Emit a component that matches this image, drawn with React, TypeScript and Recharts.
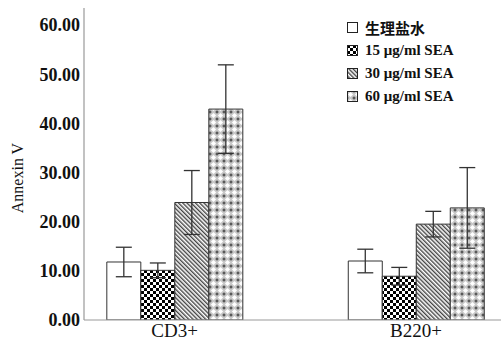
import { BarChart, Bar, XAxis, YAxis, ErrorBar, Legend } from 'recharts'

const categories = ['CD3+', 'B220+']

const salineMean = [11.8, 12.0]
const salineErr = [3.0, 2.4]
const sea15Mean = [10.1, 8.9]
const sea15Err = [1.5, 1.8]
const sea30Mean = [23.9, 19.5]
const sea30Err = [6.5, 2.6]
const sea60Mean = [42.9, 22.8]
const sea60Err = [9.0, 8.2]

const yTicks = [0, 10, 20, 30, 40, 50, 60]

const series = [
  { key: 'saline', name: '生理盐水', fill: '#ffffff', mean: salineMean, err: salineErr },
  { key: 'sea15', name: '15 μg/ml SEA', fill: 'url(#pat15)', mean: sea15Mean, err: sea15Err },
  { key: 'sea30', name: '30 μg/ml SEA', fill: 'url(#pat30)', mean: sea30Mean, err: sea30Err },
  { key: 'sea60', name: '60 μg/ml SEA', fill: 'url(#pat60)', mean: sea60Mean, err: sea60Err },
]

// numeric x so the two clusters can sit further apart than a band scale allows
const data = categories.map((c, i) => {
  const row: Record<string, number | string> = { name: c, pos: i + 1 }
  series.forEach((s) => {
    row[s.key] = s.mean[i]
    row[s.key + 'Err'] = s.err[i]
  })
  return row
})

const serif = '"Liberation Serif", "Times New Roman", "Noto Sans CJK SC", serif'

function Plus({ x, y }: { x: number; y: number }) {
  return (
    <g fill="#333">
      <rect x={x - 1.5} y={y - 0.5} width={3} height={1} />
      <rect x={x - 0.5} y={y - 1.5} width={1} height={3} />
    </g>
  )
}

function LegendBox(props: any) {
  return (
    <div style={{ fontFamily: serif, fontSize: 15, fontWeight: 'bold', color: '#111' }}>
      {series.map((s) => (
        <div key={s.key} style={{ display: 'flex', alignItems: 'center', height: 23 }}>
          <svg width={11} height={11} style={{ marginRight: 7 }}>
            <rect x={0.5} y={0.5} width={10} height={10} fill={s.fill} stroke="#222" />
          </svg>
          <span>{s.name}</span>
        </div>
      ))}
    </div>
  )
}

export default function App() {
  return (
    <div style={{ position: 'absolute', left: 0, top: 0, background: '#fff' }}>
      <BarChart width={501} height={344} data={data} margin={{ top: 8, right: 0, bottom: 0, left: 0 }} barGap={0}>
        <defs>
          <pattern id="pat15" width={6} height={6} patternUnits="userSpaceOnUse">
            <rect width={6} height={6} fill="#fff" />
            <rect x={0} y={0} width={3} height={3} fill="#000" />
            <rect x={3} y={3} width={3} height={3} fill="#000" />
          </pattern>
          <pattern id="pat30" width={3} height={10} patternUnits="userSpaceOnUse" patternTransform="rotate(-45)">
            <rect width={3} height={10} fill="#fff" />
            <rect x={0} y={0} width={1.4} height={10} fill="#444" />
          </pattern>
          <pattern id="pat60" width={7} height={7} patternUnits="userSpaceOnUse">
            <rect width={7} height={7} fill="#c8c8c8" />
            <polygon points="3.5,0.9 6.1,3.5 3.5,6.1 0.9,3.5" fill="#fff" />
            <Plus x={0} y={0} />
            <Plus x={7} y={0} />
            <Plus x={0} y={7} />
            <Plus x={7} y={7} />
          </pattern>
        </defs>
        <XAxis
          type="number"
          dataKey="pos"
          domain={[0.625, 2.352]}
          allowDataOverflow
          ticks={[1, 2]}
          tickFormatter={(v: number) => categories[v - 1]}
          height={24}
          tickLine={false}
          tickSize={0}
          tickMargin={4}
          axisLine={{ stroke: '#999', strokeWidth: 1.2 }}
          tick={{ fill: '#111', fontSize: 19, fontFamily: serif }}
        />
        <YAxis
          domain={[0, 63.46]}
          ticks={yTicks}
          allowDataOverflow
          width={84}
          tickLine={false}
          tickSize={0}
          tickMargin={4}
          tickFormatter={(v: number) => v.toFixed(2)}
          axisLine={{ stroke: '#999', strokeWidth: 1.2 }}
          tick={{ fill: '#111', fontSize: 18, fontWeight: 'bold', fontFamily: serif }}
          label={{
            content: () => (
              <text
                x={17}
                y={178}
                transform="rotate(-90 17 178)"
                textAnchor="middle"
                dominantBaseline="central"
                fontFamily={serif}
                fontSize={16}
                fill="#111"
              >
                Annexin V
              </text>
            ),
          }}
        />
        <Legend
          layout="vertical"
          align="center"
          verticalAlign="middle"
          content={LegendBox}
          wrapperStyle={{ left: 347, top: 16, width: 150, height: 95 }}
        />
        {series.map((s) => (
          <Bar
            key={s.key}
            dataKey={s.key}
            name={s.name}
            fill={s.fill}
            stroke="#333"
            strokeWidth={1}
            barSize={34}
            isAnimationActive={false}
          >
            <ErrorBar dataKey={s.key + 'Err'} width={8} stroke="#333" strokeWidth={1.3} />
          </Bar>
        ))}
      </BarChart>
    </div>
  )
}
